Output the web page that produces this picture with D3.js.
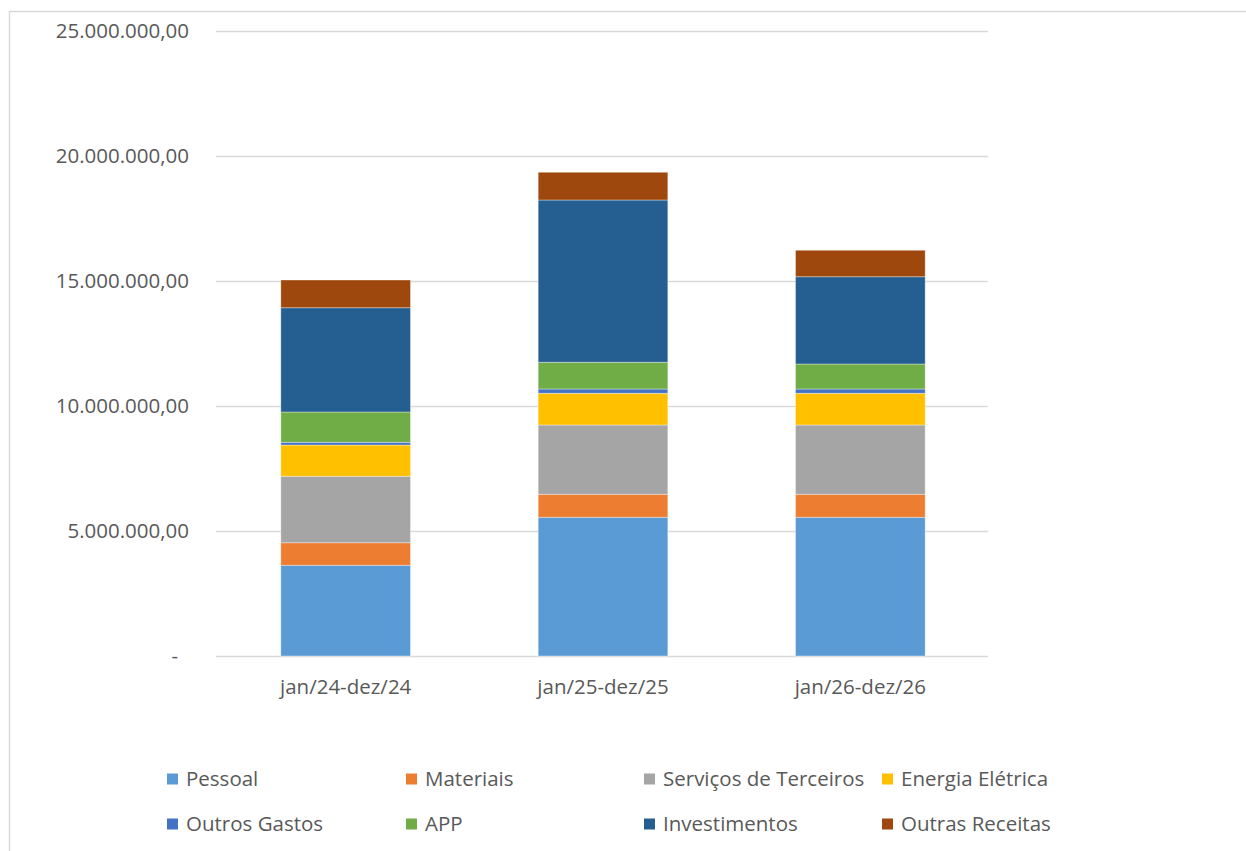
<!DOCTYPE html>
<html>
<head>
<meta charset="utf-8">
<script src="https://cdn.jsdelivr.net/npm/d3@7"></script>
<style>
  html, body { margin: 0; padding: 0; background: #fff; }
  svg { display: block; }
  text { font-family: "Open Sans", "Noto Sans", sans-serif; fill: #595959; }
</style>
</head>
<body>
<svg id="chart" width="1246" height="851"></svg>
<script>
// Periods on the x axis
const periods = ["jan/24-dez/24", "jan/25-dez/25", "jan/26-dez/26"];

// Stacked series, bottom to top (values in R$)
const seriesNames = ["Pessoal", "Materiais", "Serviços de Terceiros", "Energia Elétrica",
                     "Outros Gastos", "APP", "Investimentos", "Outras Receitas"];
const pessoal        = [3630000, 5550000, 5550000];
const materiais      = [ 900000,  920000,  920000];
const servicos       = [2660000, 2770000, 2770000];
const energia        = [1250000, 1270000, 1270000];
const outrosGastos   = [ 110000,  170000,  170000];
const app            = [1210000, 1070000, 1000000];
const investimentos  = [4170000, 6490000, 3490000];
const outrasReceitas = [1110000, 1110000, 1060000];

const seriesColors = ["#5B9BD5", "#ED7D31", "#A5A5A5", "#FFC000",
                      "#4472C4", "#70AD47", "#255E91", "#9E480E"];

// Y axis ticks
const yTicks = [0, 5000000, 10000000, 15000000, 20000000, 25000000];

const seriesValues = [pessoal, materiais, servicos, energia, outrosGastos, app, investimentos, outrasReceitas];
const rows = periods.map((p, i) => {
  const r = { period: p };
  seriesNames.forEach((n, k) => { r[n] = seriesValues[k][i]; });
  return r;
});

const svg = d3.select("#chart");
const W = 1246, H = 851;
const FS = "20.5px";

// Chart frame (left and top edges visible)
svg.append("line").attr("x1", 9.5).attr("x2", 9.5).attr("y1", 11).attr("y2", H)
  .attr("stroke", "#d9d9d9").attr("stroke-width", 1.5);
svg.append("line").attr("x1", 9).attr("x2", W).attr("y1", 11.5).attr("y2", 11.5)
  .attr("stroke", "#d9d9d9").attr("stroke-width", 1.5);

const plot = { left: 216, right: 988, top: 31, bottom: 656 };

const x = d3.scaleBand().domain(periods).range([plot.left, plot.right]).paddingInner(0.5).paddingOuter(0.25);
const y = d3.scaleLinear().domain([0, 25000000]).range([plot.bottom, plot.top]);

const br = d3.formatLocale({ decimal: ",", thousands: ".", grouping: [3], currency: ["R$ ", ""] });
const fmt = br.format(",.2f");

// Gridlines
svg.append("g").selectAll("line").data(yTicks).join("line")
  .attr("x1", plot.left).attr("x2", plot.right)
  .attr("y1", d => Math.round(y(d)) + 0.5).attr("y2", d => Math.round(y(d)) + 0.5)
  .attr("stroke", "#d9d9d9").attr("stroke-width", 1.5);

// Y axis labels
const yAxis = d3.axisLeft(y).tickValues(yTicks).tickSize(0).tickPadding(0)
  .tickFormat(d => d === 0 ? "-" : fmt(d));
const gy = svg.append("g").attr("transform", "translate(189,0)").call(yAxis);
gy.select(".domain").remove();
gy.selectAll("text").style("font-size", FS).attr("fill", "#595959")
  .attr("font-family", null)
  .attr("dx", d => d === 0 ? -11 : 0);

// Stacked bars
const stack = d3.stack().keys(seriesNames);
const layers = stack(rows);
svg.append("g").selectAll("g").data(layers).join("g")
  .attr("fill", (d, i) => seriesColors[i])
  .selectAll("rect").data(d => d).join("rect")
  .attr("x", d => x(d.data.period) + 0.5)
  .attr("width", x.bandwidth() + 1)
  .attr("y", d => y(d[1]))
  .attr("height", d => y(d[0]) - y(d[1]))
  .attr("stroke", "rgba(255,255,255,0.45)").attr("stroke-width", 0.8);

// X axis labels
const xAxis = d3.axisBottom(x).tickSize(0).tickPadding(0);
const gx = svg.append("g").attr("transform", `translate(1,${plot.bottom + 28})`).call(xAxis);
gx.select(".domain").remove();
gx.selectAll("text").style("font-size", FS).attr("fill", "#595959").attr("font-family", null)
  .attr("dy", "0.5em");

// Legend: two rows of four entries
const legendCols = [167, 406, 644, 882];
const legendRows = [779, 824];
const lg = svg.append("g").selectAll("g").data(seriesNames).join("g")
  .attr("transform", (d, i) => `translate(${legendCols[i % 4]},${legendRows[Math.floor(i / 4)]})`);
lg.append("rect").attr("x", 0).attr("y", -5.5).attr("width", 11).attr("height", 11)
  .attr("fill", (d, i) => seriesColors[i]);
lg.append("text").attr("x", 19).attr("dy", "0.35em").style("font-size", FS).text(d => d);
</script>
</body>
</html>
